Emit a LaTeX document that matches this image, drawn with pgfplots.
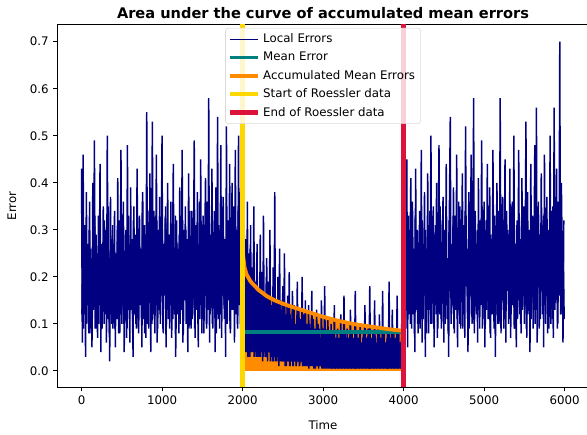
\documentclass[border=0pt]{standalone}
\usepackage{pgfplots}
\pgfplotsset{compat=1.18}
\usepackage{pgfplotstable}
\usepackage{fontspec}
\setmainfont{DejaVu Sans}
\definecolor{mplnavy}{HTML}{000080}
\definecolor{mplteal}{HTML}{008080}
\definecolor{mplorange}{HTML}{FF8C00}
\definecolor{mplgold}{HTML}{FFD700}
\definecolor{mplcrimson}{HTML}{DC143C}

% local errors at t = 0, 10, 20, ...
\pgfplotstableread[header=false,row sep=\\]{
0.43\\0.06\\0.46\\0.12\\0.31\\0.03\\0.38\\0.15\\0.27\\0.08\\
0.36\\0.11\\0.22\\0.05\\0.40\\0.17\\0.49\\0.09\\0.29\\0.14\\
0.07\\0.33\\0.19\\0.44\\0.04\\0.26\\0.13\\0.35\\0.10\\0.24\\
0.30\\0.06\\0.50\\0.16\\0.21\\0.02\\0.37\\0.12\\0.28\\0.09\\
0.18\\0.34\\0.05\\0.25\\0.11\\0.41\\0.08\\0.32\\0.15\\0.47\\
0.10\\0.23\\0.36\\0.04\\0.19\\0.30\\0.07\\0.48\\0.13\\0.27\\
0.06\\0.39\\0.16\\0.22\\0.03\\0.35\\0.12\\0.29\\0.09\\0.43\\
0.20\\0.08\\0.33\\0.14\\0.26\\0.05\\0.38\\0.11\\0.31\\0.17\\
0.07\\0.55\\0.10\\0.28\\0.15\\0.42\\0.04\\0.24\\0.53\\0.12\\
0.34\\0.08\\0.21\\0.46\\0.06\\0.30\\0.13\\0.37\\0.10\\0.25\\
0.50\\0.09\\0.27\\0.16\\0.33\\0.05\\0.22\\0.40\\0.11\\0.29\\
0.14\\0.36\\0.07\\0.24\\0.44\\0.12\\0.19\\0.03\\0.32\\0.17\\
0.26\\0.08\\0.39\\0.13\\0.21\\0.47\\0.06\\0.30\\0.15\\0.35\\
0.10\\0.28\\0.04\\0.42\\0.18\\0.25\\0.09\\0.34\\0.12\\0.23\\
0.49\\0.07\\0.31\\0.16\\0.38\\0.05\\0.27\\0.11\\0.45\\0.14\\
0.20\\0.33\\0.08\\0.26\\0.41\\0.10\\0.36\\0.13\\0.58\\0.06\\
0.29\\0.15\\0.43\\0.09\\0.22\\0.34\\0.04\\0.39\\0.12\\0.54\\
0.11\\0.30\\0.18\\0.48\\0.07\\0.25\\0.37\\0.14\\0.28\\0.03\\
0.52\\0.10\\0.32\\0.17\\0.44\\0.08\\0.23\\0.40\\0.13\\0.35\\
0.06\\0.47\\0.19\\0.29\\0.09\\0.50\\0.14\\0.38\\0.07\\0.45\\
0.39\\0.05\\0.33\\0.04\\0.28\\0.04\\0.36\\0.03\\0.25\\0.03\\
0.31\\0.04\\0.22\\0.04\\0.35\\0.05\\0.19\\0.03\\0.27\\0.03\\
0.17\\0.03\\0.29\\0.05\\0.21\\0.02\\0.33\\0.04\\0.16\\0.03\\
0.24\\0.02\\0.19\\0.04\\0.30\\0.03\\0.14\\0.02\\0.22\\0.05\\
0.38\\0.02\\0.15\\0.03\\0.20\\0.01\\0.26\\0.03\\0.13\\0.02\\
0.18\\0.02\\0.25\\0.01\\0.12\\0.03\\0.16\\0.02\\0.21\\0.01\\
0.11\\0.02\\0.17\\0.01\\0.14\\0.02\\0.10\\0.01\\0.19\\0.02\\
0.13\\0.01\\0.09\\0.02\\0.20\\0.01\\0.12\\0.01\\0.15\\0.02\\
0.10\\0.01\\0.14\\0.01\\0.09\\0.02\\0.17\\0.01\\0.11\\0.01\\
0.08\\0.01\\0.13\\0.01\\0.10\\0.02\\0.07\\0.01\\0.15\\0.01\\
0.09\\0.01\\0.18\\0.01\\0.08\\0.01\\0.11\\0.01\\0.07\\0.01\\
0.10\\0.005\\0.08\\0.01\\0.14\\0.005\\0.07\\0.01\\0.09\\0.005\\
0.06\\0.01\\0.12\\0.005\\0.08\\0.01\\0.16\\0.005\\0.07\\0.01\\
0.09\\0.005\\0.07\\0.01\\0.13\\0.005\\0.08\\0.01\\0.06\\0.005\\
0.17\\0.005\\0.08\\0.01\\0.07\\0.005\\0.10\\0.01\\0.06\\0.005\\
0.08\\0.01\\0.14\\0.005\\0.07\\0.01\\0.09\\0.005\\0.18\\0.005\\
0.07\\0.01\\0.08\\0.005\\0.15\\0.01\\0.06\\0.005\\0.09\\0.01\\
0.12\\0.005\\0.07\\0.01\\0.17\\0.005\\0.08\\0.01\\0.06\\0.005\\
0.09\\0.005\\0.19\\0.01\\0.07\\0.005\\0.13\\0.01\\0.08\\0.005\\
0.07\\0.01\\0.16\\0.005\\0.08\\0.01\\0.06\\0.005\\0.14\\0.01\\
0.39\\0.07\\0.28\\0.15\\0.45\\0.05\\0.33\\0.12\\0.24\\0.41\\
0.09\\0.36\\0.18\\0.26\\0.04\\0.43\\0.13\\0.30\\0.08\\0.22\\
0.34\\0.11\\0.47\\0.06\\0.27\\0.16\\0.38\\0.03\\0.25\\0.13\\
0.42\\0.08\\0.31\\0.19\\0.50\\0.10\\0.23\\0.35\\0.05\\0.29\\
0.14\\0.40\\0.07\\0.26\\0.48\\0.12\\0.32\\0.09\\0.21\\0.37\\
0.06\\0.30\\0.17\\0.44\\0.11\\0.24\\0.03\\0.36\\0.54\\0.10\\
0.27\\0.15\\0.39\\0.08\\0.33\\0.20\\0.46\\0.05\\0.28\\0.13\\
0.35\\0.09\\0.25\\0.42\\0.14\\0.31\\0.07\\0.52\\0.18\\0.26\\
0.04\\0.38\\0.12\\0.29\\0.46\\0.10\\0.22\\0.58\\0.08\\0.34\\
0.16\\0.27\\0.06\\0.41\\0.13\\0.32\\0.19\\0.49\\0.09\\0.23\\
0.36\\0.05\\0.30\\0.15\\0.44\\0.11\\0.26\\0.39\\0.07\\0.28\\
0.12\\0.47\\0.18\\0.33\\0.03\\0.25\\0.40\\0.10\\0.31\\0.15\\
0.58\\0.08\\0.27\\0.37\\0.13\\0.22\\0.45\\0.06\\0.34\\0.17\\
0.29\\0.11\\0.43\\0.07\\0.24\\0.36\\0.14\\0.50\\0.09\\0.26\\
0.05\\0.32\\0.19\\0.47\\0.12\\0.28\\0.08\\0.41\\0.16\\0.35\\
0.10\\0.25\\0.53\\0.07\\0.38\\0.14\\0.30\\0.04\\0.44\\0.21\\
0.33\\0.09\\0.27\\0.48\\0.13\\0.56\\0.06\\0.35\\0.18\\0.29\\
0.11\\0.42\\0.20\\0.31\\0.05\\0.46\\0.15\\0.26\\0.37\\0.08\\
0.30\\0.16\\0.50\\0.10\\0.34\\0.23\\0.07\\0.56\\0.13\\0.28\\
0.43\\0.09\\0.36\\0.18\\0.70\\0.12\\0.40\\0.25\\0.06\\0.32\\
}\localerr

% local errors at t = 5, 15, 25, ...
\pgfplotstableread[header=false,row sep=\\]{
0.12\\0.29\\0.09\\0.24\\0.17\\0.31\\0.10\\0.22\\0.14\\0.30\\
0.08\\0.26\\0.19\\0.11\\0.28\\0.13\\0.33\\0.16\\0.09\\0.25\\
0.21\\0.10\\0.30\\0.14\\0.27\\0.09\\0.23\\0.18\\0.32\\0.12\\
0.15\\0.28\\0.11\\0.35\\0.08\\0.24\\0.19\\0.10\\0.31\\0.16\\
0.27\\0.09\\0.22\\0.13\\0.30\\0.17\\0.26\\0.08\\0.34\\0.12\\
0.18\\0.31\\0.10\\0.25\\0.14\\0.29\\0.09\\0.21\\0.33\\0.11\\
0.24\\0.13\\0.28\\0.08\\0.32\\0.16\\0.20\\0.10\\0.27\\0.15\\
0.09\\0.30\\0.17\\0.23\\0.11\\0.36\\0.13\\0.26\\0.08\\0.29\\
0.19\\0.12\\0.34\\0.09\\0.25\\0.15\\0.31\\0.10\\0.22\\0.28\\
0.11\\0.27\\0.14\\0.32\\0.09\\0.20\\0.29\\0.12\\0.24\\0.16\\
0.30\\0.08\\0.23\\0.18\\0.35\\0.10\\0.26\\0.13\\0.28\\0.09\\
0.21\\0.14\\0.31\\0.11\\0.25\\0.17\\0.33\\0.09\\0.27\\0.12\\
0.16\\0.29\\0.10\\0.24\\0.13\\0.32\\0.08\\0.22\\0.19\\0.30\\
0.12\\0.26\\0.17\\0.09\\0.34\\0.14\\0.28\\0.11\\0.23\\0.31\\
0.09\\0.25\\0.13\\0.30\\0.10\\0.21\\0.36\\0.15\\0.27\\0.08\\
0.28\\0.11\\0.23\\0.16\\0.32\\0.09\\0.25\\0.18\\0.30\\0.12\\
0.14\\0.33\\0.10\\0.27\\0.15\\0.22\\0.29\\0.08\\0.24\\0.17\\
0.31\\0.09\\0.26\\0.12\\0.35\\0.16\\0.20\\0.11\\0.28\\0.14\\
0.10\\0.29\\0.15\\0.24\\0.09\\0.32\\0.13\\0.27\\0.18\\0.22\\
0.25\\0.12\\0.30\\0.10\\0.34\\0.16\\0.23\\0.09\\0.28\\0.19\\
0.12\\0.30\\0.04\\0.24\\0.05\\0.27\\0.03\\0.21\\0.05\\0.26\\
0.04\\0.20\\0.05\\0.25\\0.03\\0.18\\0.04\\0.23\\0.03\\0.16\\
0.04\\0.21\\0.03\\0.17\\0.04\\0.19\\0.03\\0.14\\0.04\\0.20\\
0.03\\0.15\\0.04\\0.18\\0.02\\0.13\\0.03\\0.16\\0.02\\0.12\\
0.03\\0.14\\0.02\\0.16\\0.03\\0.12\\0.02\\0.15\\0.02\\0.11\\
0.02\\0.13\\0.02\\0.10\\0.01\\0.14\\0.02\\0.11\\0.01\\0.12\\
0.02\\0.10\\0.01\\0.12\\0.02\\0.09\\0.01\\0.11\\0.02\\0.10\\
0.01\\0.11\\0.02\\0.08\\0.01\\0.10\\0.02\\0.09\\0.01\\0.10\\
0.01\\0.08\\0.005\\0.10\\0.01\\0.09\\0.01\\0.08\\0.005\\0.09\\
0.005\\0.09\\0.01\\0.08\\0.005\\0.09\\0.01\\0.07\\0.005\\0.08\\
0.005\\0.08\\0.005\\0.07\\0.005\\0.09\\0.005\\0.08\\0.005\\0.07\\
0.005\\0.07\\0.005\\0.08\\0.005\\0.07\\0.005\\0.08\\0.005\\0.07\\
0.005\\0.08\\0.005\\0.07\\0.005\\0.07\\0.005\\0.08\\0.005\\0.06\\
0.005\\0.07\\0.005\\0.08\\0.005\\0.06\\0.005\\0.07\\0.005\\0.07\\
0.005\\0.06\\0.005\\0.07\\0.005\\0.08\\0.005\\0.06\\0.005\\0.07\\
0.005\\0.07\\0.005\\0.06\\0.005\\0.07\\0.005\\0.08\\0.005\\0.06\\
0.005\\0.06\\0.005\\0.07\\0.005\\0.06\\0.005\\0.07\\0.005\\0.06\\
0.005\\0.07\\0.005\\0.06\\0.005\\0.07\\0.005\\0.06\\0.005\\0.07\\
0.005\\0.06\\0.005\\0.07\\0.005\\0.06\\0.005\\0.07\\0.005\\0.06\\
0.005\\0.07\\0.005\\0.06\\0.005\\0.06\\0.005\\0.07\\0.005\\0.06\\
0.11\\0.28\\0.16\\0.23\\0.09\\0.31\\0.13\\0.26\\0.10\\0.20\\
0.29\\0.12\\0.24\\0.08\\0.33\\0.15\\0.21\\0.10\\0.27\\0.17\\
0.09\\0.25\\0.14\\0.32\\0.11\\0.22\\0.18\\0.30\\0.08\\0.26\\
0.20\\0.13\\0.34\\0.10\\0.24\\0.16\\0.29\\0.09\\0.23\\0.31\\
0.12\\0.27\\0.09\\0.21\\0.15\\0.35\\0.11\\0.25\\0.18\\0.28\\
0.30\\0.10\\0.26\\0.14\\0.22\\0.08\\0.32\\0.17\\0.24\\0.12\\
0.16\\0.33\\0.09\\0.25\\0.13\\0.29\\0.11\\0.21\\0.36\\0.10\\
0.23\\0.15\\0.30\\0.09\\0.27\\0.12\\0.34\\0.18\\0.22\\0.11\\
0.28\\0.09\\0.24\\0.16\\0.31\\0.13\\0.26\\0.10\\0.33\\0.15\\
0.12\\0.30\\0.18\\0.22\\0.09\\0.27\\0.14\\0.35\\0.11\\0.25\\
0.19\\0.10\\0.32\\0.13\\0.26\\0.17\\0.23\\0.08\\0.29\\0.14\\
0.25\\0.16\\0.09\\0.31\\0.12\\0.28\\0.19\\0.34\\0.10\\0.22\\
0.13\\0.27\\0.15\\0.24\\0.09\\0.33\\0.11\\0.26\\0.20\\0.30\\
0.10\\0.23\\0.29\\0.12\\0.35\\0.14\\0.21\\0.09\\0.27\\0.17\\
0.31\\0.11\\0.25\\0.15\\0.22\\0.10\\0.32\\0.13\\0.28\\0.19\\
0.14\\0.29\\0.09\\0.34\\0.12\\0.24\\0.17\\0.30\\0.11\\0.26\\
0.22\\0.13\\0.31\\0.10\\0.27\\0.15\\0.23\\0.36\\0.09\\0.25\\
0.17\\0.28\\0.12\\0.33\\0.14\\0.21\\0.10\\0.29\\0.16\\0.24\\
0.09\\0.26\\0.19\\0.30\\0.11\\0.35\\0.13\\0.22\\0.28\\0.15\\
0.27\\0.10\\0.24\\0.16\\0.32\\0.12\\0.29\\0.18\\0.23\\0.11\\
}\localerrb

\pgfplotstableread{
x y
2000 0.26
2010 0.24
2025 0.22
2050 0.205
2100 0.19
2200 0.172
2300 0.159
2400 0.150
2500 0.143
2600 0.137
2800 0.126
3000 0.115
3200 0.106
3400 0.099
3600 0.094
3800 0.089
4000 0.085
}\accmean

\begin{document}
\begin{tikzpicture}
\begin{axis}[
  scale only axis,
  width=382.5pt, height=261.4pt,
  xmin=-300, xmax=6299,
  ymin=-0.0351, ymax=0.737,
  axis line style={line width=0.6pt},
  tick pos=left, tick align=outside,
  major tick length=2.8pt,
  tick style={line width=0.6pt, black},
  xtick={0,1000,2000,3000,4000,5000,6000},
  ytick={0,0.1,0.2,0.3,0.4,0.5,0.6,0.7},
  /pgf/number format/assume math mode=true,
  xticklabel style={/pgf/number format/1000 sep={}},
  yticklabel style={/pgf/number format/.cd, fixed, fixed zerofill, precision=1},
  ticklabel style={font=\fontsize{8.5}{10}\selectfont},
  label style={font=\fontsize{8.5}{10}\selectfont},
  xlabel={Time}, ylabel={Error},
  xlabel style={yshift=-4.5pt},
  ylabel style={yshift=2.8pt},
  title={Area under the curve of accumulated mean errors},
  title style={font=\bfseries\fontsize{10.5}{12}\selectfont, yshift=-5.5pt},
  legend style={at={(0.5,0.99)}, anchor=north, font=\fontsize{8.5}{10}\selectfont,
    draw=black!15, rounded corners=2pt, fill=white, fill opacity=0.8, text opacity=1,
    row sep=1.3pt, inner xsep=2pt, inner ysep=2pt},
  legend cell align=left,
  legend image code/.code={\draw[#1] (0cm,0cm) -- (0.7cm,0cm);},
]
\addplot[fill=mplorange, draw=none, forget plot] table[x=x, y=y] {\accmean} \closedcycle;
\addplot[mplnavy, line width=1.05pt] table[x expr=\coordindex*10, y index=0] {\localerr};
\addlegendentry{Local Errors}
\addplot[mplnavy, line width=1.05pt, forget plot] table[x expr=\coordindex*10+5, y index=0] {\localerrb};
\addplot[mplteal, line width=2.8pt] coordinates {(2000,0.083) (4000,0.083)};
\addlegendentry{Mean Error}
\addplot[mplorange, line width=2.8pt] table[x=x, y=y] {\accmean};
\addlegendentry{Accumulated Mean Errors}
\addplot[mplgold, line width=3.2pt] coordinates {(2000,-0.0351) (2000,0.737)};
\addlegendentry{Start of Roessler data}
\addplot[mplcrimson, line width=3.2pt] coordinates {(4000,-0.0351) (4000,0.737)};
\addlegendentry{End of Roessler data}
\end{axis}
\pgfresetboundingbox
\path[use as bounding box] (-41.3pt,-33.6pt) rectangle (381.3pt,278.9pt);
\end{tikzpicture}
\end{document}
